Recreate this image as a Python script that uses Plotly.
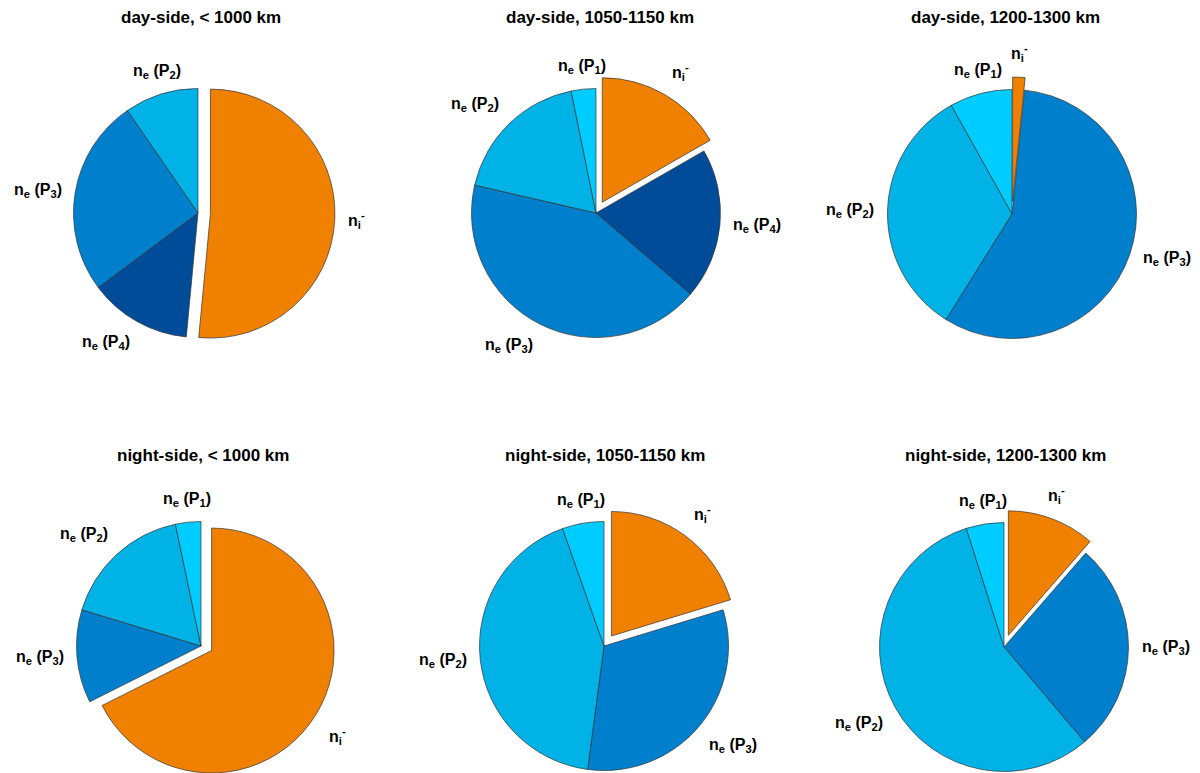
import math
import plotly.graph_objects as go

# ---- data (percent of total) ----
categories = ["n_i-", "n_e (P4)", "n_e (P3)", "n_e (P2)", "n_e (P1)"]
labels_html = ["n<sub>i</sub><sup>-</sup>", "n<sub>e</sub> (P<sub>4</sub>)",
               "n<sub>e</sub> (P<sub>3</sub>)", "n<sub>e</sub> (P<sub>2</sub>)",
               "n<sub>e</sub> (P<sub>1</sub>)"]
colors = ["#F08000", "#004C99", "#0080CC", "#00B2E6", "#00CCFF"]

day_lt1000 = [51.5, 13.3, 25.6, 9.6, 0.0]
day_1050_1150 = [16.7, 19.6, 42.3, 18.2, 3.2]
day_1200_1300 = [1.6, 0.0, 57.3, 33.0, 8.1]
night_lt1000 = [67.6, 0.0, 12.1, 17.0, 3.3]
night_1050_1150 = [20.3, 0.0, 31.8, 42.5, 5.4]
night_1200_1300 = [11.4, 0.0, 27.4, 56.3, 4.9]

titles = ["day-side, < 1000 km", "day-side, 1050-1150 km", "day-side, 1200-1300 km",
          "night-side, < 1000 km", "night-side, 1050-1150 km", "night-side, 1200-1300 km"]
series = [day_lt1000, day_1050_1150, day_1200_1300,
          night_lt1000, night_1050_1150, night_1200_1300]

# ---- layout geometry (window pixels; page body has an 8px margin) ----
OFF = 8
W, H = 1200 - OFF, 773 - OFF
centers = [(198, 213), (596, 213), (1012, 214), (201, 646), (604, 646), (1004, 647)]
radius = 124.5
explode = 0.1      # fraction of radius for the exploded first slice
label_dist = 1.1   # label anchor distance, in radii
title_pos = [(201, 18), (600, 18), (1005, 18), (203, 455), (605, 455), (1005, 455)]
FONT = "Liberation Sans, Arial, sans-serif"
TRANSPARENT = "rgba(0,0,0,0)"
EDGE = "#333333"
# alignment by octant of the slice bisector (0 = top, clockwise)
ALIGN = [("center", "bottom"), ("left", "bottom"), ("left", "middle"), ("left", "top"),
         ("center", "top"), ("right", "top"), ("right", "middle"), ("right", "bottom")]


def px_to_paper(x, y):
    return (x - OFF) / W, 1 - (y - OFF) / H


def domain_for(cx, cy, r):
    x0, y1 = px_to_paper(cx - r, cy - r)
    x1, y0 = px_to_paper(cx + r, cy + r)
    return dict(x=[max(0, x0), min(1, x1)], y=[max(0, y0), min(1, y1)])


fig = go.Figure()
for vals, (cx, cy) in zip(series, centers):
    idx = [i for i, v in enumerate(vals) if v > 0]
    v = [vals[i] for i in idx]
    total = sum(v)
    common = dict(values=v, labels=[categories[i] for i in idx], sort=False,
                  direction="clockwise", rotation=0, showlegend=False,
                  textinfo="none", hoverinfo="label+percent")
    # base pie: all slices except the exploded one
    fig.add_trace(go.Pie(
        marker=dict(colors=[TRANSPARENT if k == 0 else colors[i] for k, i in enumerate(idx)],
                    line=dict(color=EDGE, width=[0 if k == 0 else 0.7 for k in range(len(idx))])),
        domain=domain_for(cx, cy, radius), **common))
    # exploded slice: same pie shifted outwards along the slice bisector
    theta0 = math.radians(360 * (v[0] / total) / 2)
    ex = explode * radius * math.sin(theta0)
    ey = -explode * radius * math.cos(theta0)
    fig.add_trace(go.Pie(
        marker=dict(colors=[colors[i] if k == 0 else TRANSPARENT for k, i in enumerate(idx)],
                    line=dict(color=EDGE, width=[0.7 if k == 0 else 0 for k in range(len(idx))])),
        domain=domain_for(cx + ex, cy + ey, radius), **common))
    # slice labels, placed along each slice's bisector
    start = 0.0
    for k, i in enumerate(idx):
        frac = v[k] / total
        a_deg = 360 * (start + frac / 2)
        start += frac
        a = math.radians(a_deg)
        ox, oy = (ex, ey) if k == 0 else (0, 0)
        lx = cx + ox + label_dist * radius * math.sin(a)
        ly = cy + oy - label_dist * radius * math.cos(a)
        ha, va = ALIGN[int(round(a_deg / 45)) % 8]
        px, py = px_to_paper(lx, ly)
        fig.add_annotation(text="<b>%s</b>" % labels_html[i], x=px, y=py,
                           xref="paper", yref="paper", showarrow=False,
                           xanchor=ha, yanchor=va, borderpad=0,
                           font=dict(family=FONT, size=16, color="black"))

for t, (tx, ty) in zip(titles, title_pos):
    px, py = px_to_paper(tx, ty)
    fig.add_annotation(text="<b>%s</b>" % t, x=px, y=py, xref="paper", yref="paper",
                       showarrow=False, xanchor="center", yanchor="middle",
                       font=dict(family=FONT, size=17, color="black"))

fig.update_layout(width=W, height=H, margin=dict(l=0, r=0, t=0, b=0),
                  paper_bgcolor="white", plot_bgcolor="white")
fig.write_html("out.html")
